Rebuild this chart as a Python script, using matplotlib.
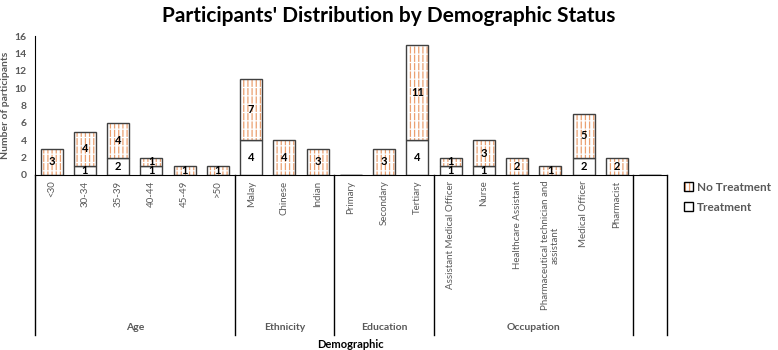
import matplotlib.pyplot as plt
import matplotlib.patches as mpatches
import matplotlib.transforms as mtransforms

# data
categories = ['<30', '30-34', '35-39', '40-44', '45-49', '>50',
              'Malay', 'Chinese', 'Indian',
              'Primary', 'Secondary', 'Tertiary',
              'Assistant Medical Officer', 'Nurse', 'Healthcare Assistant',
              'Pharmaceutical technician and\nassistant', 'Medical Officer', 'Pharmacist', '']
treatment = [0, 1, 2, 1, 0, 0, 4, 0, 0, 0, 0, 4, 1, 1, 0, 0, 2, 0, 0]
no_treatment = [3, 4, 4, 1, 1, 1, 7, 4, 3, 0, 3, 11, 1, 3, 2, 1, 5, 2, 0]
groups = ['Age', 'Ethnicity', 'Education', 'Occupation', '']
group_sizes = [6, 3, 3, 6, 1]

plt.rcParams['font.family'] = ['Lato', 'DejaVu Sans']
plt.rcParams['hatch.linewidth'] = 0.9
gray = '#595959'
orange = '#EBA070'
edge = '#404040'

fig = plt.figure(figsize=(7.78, 3.5), dpi=100)
ax = fig.add_axes([0.045, 0.5, 0.812, 0.397])

x = list(range(len(categories)))
w = 0.66

# treatment bars
ax.bar(x, treatment, width=w, color='white', edgecolor=edge, linewidth=1)
# no treatment bars: orange vertical hatch, white horizontal hatch to break it into dashes, outline
ax.bar(x, no_treatment, width=w, bottom=treatment, color='white',
       edgecolor=orange, linewidth=0, hatch='||||')
ax.bar(x, no_treatment, width=w, bottom=treatment, color='none',
       edgecolor='white', linewidth=0, hatch='--')
ax.bar(x, no_treatment, width=w, bottom=treatment, color='none',
       edgecolor=edge, linewidth=1)

for i in x:
    if treatment[i] > 0:
        ax.text(i, treatment[i] / 2, str(treatment[i]), ha='center', va='center',
                fontsize=8, fontweight='bold', color='black')
    if no_treatment[i] > 0:
        ax.text(i, treatment[i] + no_treatment[i] / 2, str(no_treatment[i]),
                ha='center', va='center', fontsize=8, fontweight='bold', color='black')

ax.set_xlim(-0.5, len(categories) - 0.5)
ax.set_ylim(0, 16)
ax.set_yticks(range(0, 17, 2))
ax.tick_params(axis='y', length=0, labelsize=7.5, labelcolor=gray, pad=6)
for t in ax.get_yticklabels():
    t.set_fontweight('bold')
ax.set_ylabel('Number of participants', fontsize=7.5, fontweight='bold', color=gray, labelpad=3)

ax.set_xticks(x)
ax.set_xticklabels(categories, rotation=90, fontsize=7, color=gray,
                   va='top', ha='center', multialignment='center')
ax.tick_params(axis='x', length=0, pad=4)

ax.spines[['top', 'right']].set_visible(False)
ax.spines['left'].set_color('black')
ax.spines['bottom'].set_color('black')

# group separators and labels
trans = mtransforms.blended_transform_factory(ax.transData, ax.transAxes)
start = -0.5
ax.plot([start, start], [0, -1.15], color='black', lw=1, transform=trans, clip_on=False)
for name, size in zip(groups, group_sizes):
    end = start + size
    ax.plot([end, end], [0, -1.15], color='black', lw=1, transform=trans, clip_on=False)
    ax.text((start + end) / 2, -1.1, name, ha='center', va='center', fontsize=7.5,
            fontweight='bold', color=gray, transform=trans)
    start = end

fig.text(0.45, 0.017, 'Demographic', ha='center', va='center', fontsize=8, fontweight='bold')
fig.text(0.5, 0.955, "Participants' Distribution by Demographic Status", ha='center',
         va='center', fontsize=15, fontweight='bold')

# legend
h1 = mpatches.Patch(facecolor='white', edgecolor=orange, hatch='||||', linewidth=0)
h1b = mpatches.Patch(facecolor='none', edgecolor='black', linewidth=1)
h2 = mpatches.Patch(facecolor='white', edgecolor='black', linewidth=1)
leg = fig.legend([(h1, h1b), h2], ['No Treatment', 'Treatment'], loc='upper left',
                 bbox_to_anchor=(0.868, 0.505), frameon=False, fontsize=8.5,
                 handlelength=0.8, handleheight=0.8, handletextpad=0.3, labelspacing=0.8,
                 borderpad=0.2)
for t in leg.get_texts():
    t.set_fontweight('bold')
    t.set_color(gray)

fig.savefig('out.png', dpi=100)
